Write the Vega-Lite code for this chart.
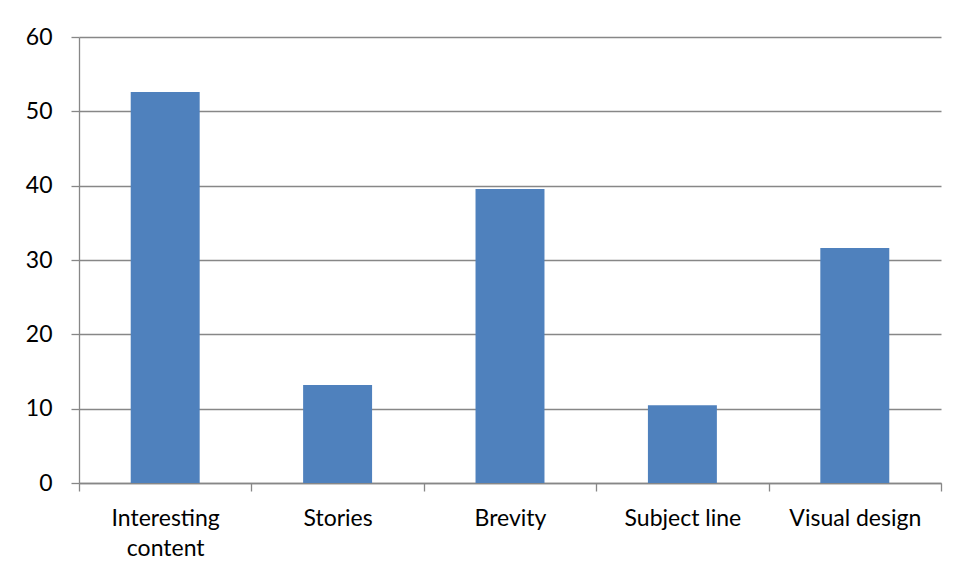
{
  "$schema": "https://vega.github.io/schema/vega-lite/v6.json",
  "width": 862,
  "height": 446,
  "autosize": {"type": "none"},
  "padding": {"left": 79, "top": 37, "right": 18, "bottom": 96},
  "background": "white",
  "data": {
    "values": [
      {"factor": "Interesting content", "value": 52.6},
      {"factor": "Stories", "value": 13.2},
      {"factor": "Brevity", "value": 39.55},
      {"factor": "Subject line", "value": 10.45},
      {"factor": "Visual design", "value": 31.6}
    ]
  },
  "mark": {"type": "bar", "color": "#4F81BD", "width": {"band": 0.4}},
  "encoding": {
    "x": {
      "field": "factor",
      "type": "nominal",
      "sort": null,
      "scale": {"paddingInner": 0, "paddingOuter": 0},
      "axis": {
        "title": null,
        "labelAngle": 0,
        "labelExpr": "length(datum.label) > 15 ? split(datum.label, ' ') : datum.label",
        "labelLineHeight": 30,
        "labelPadding": 16,
        "labelBaseline": "top",
        "tickBand": "extent",
        "tickSize": 8,
        "grid": false
      }
    },
    "y": {
      "field": "value",
      "type": "quantitative",
      "scale": {"domain": [0, 60], "nice": false},
      "axis": {
        "title": null,
        "values": [0, 10, 20, 30, 40, 50, 60],
        "tickSize": 8,
        "labelPadding": 19,
        "grid": true
      }
    }
  },
  "config": {
    "view": {"stroke": null},
    "axis": {
      "domainColor": "#878787",
      "domainWidth": 1.3,
      "tickColor": "#878787",
      "tickWidth": 1.3,
      "gridColor": "#878787",
      "gridWidth": 1.3,
      "gridOpacity": 1,
      "labelFont": "Lato",
      "labelFontSize": 23,
      "labelColor": "#000000"
    }
  }
}
